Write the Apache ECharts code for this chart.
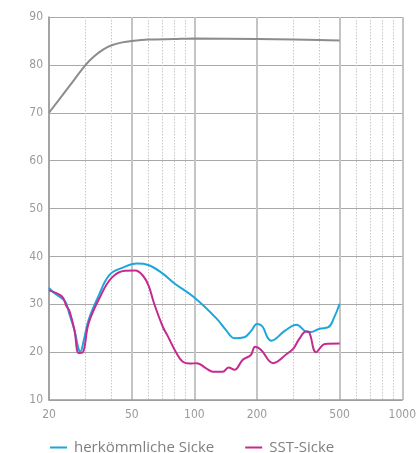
<!DOCTYPE html>
<html><head><meta charset="utf-8">
<script src="https://cdn.jsdelivr.net/npm/echarts@6/dist/echarts.min.js"></script>
<style>html,body{margin:0;padding:0;background:#fff}#c{width:419px;height:453px}</style>
</head><body><div id="c"></div>
<script>
var xMajorTicks = [20, 50, 100, 200, 500, 1000];
var xMinorTicks = [30, 40, 60, 70, 80, 90, 300, 400, 600, 700, 800, 900];
var seriesNames = ['herkömmliche Sicke', 'SST-Sicke'];

var grayFreq = [20, 25, 30, 33, 36.4, 40, 45, 50, 60, 80, 100, 200, 300, 400, 500];
var grayVal  = [70, 75.5, 80, 81.8, 83.2, 84.1, 84.7, 85.0, 85.3, 85.4, 85.5, 85.4, 85.3, 85.2, 85.1];

var blueFreq = [20, 21.1, 23.9, 25, 26.5, 27.7, 28.3, 29.3, 31, 34.5, 39, 45, 53, 60, 70, 80, 100, 128, 142, 156, 174, 188, 200, 213, 224, 234, 273, 310, 345, 363, 400, 441, 470, 500];
var blueVal  = [33.4, 32.4, 30.6, 28.1, 24.6, 20.8, 20.1, 22.2, 26.7, 31.6, 36.1, 37.6, 38.5, 38.2, 36.5, 34.4, 31.4, 27.0, 24.6, 22.9, 23.1, 24.5, 25.9, 25.3, 23.2, 22.4, 24.5, 25.7, 24.3, 24.2, 24.9, 25.2, 27.2, 30.1];

var magFreq = [20, 23.1, 24.3, 25, 26.5, 27.8, 29, 31, 35, 40, 46.4, 52, 57, 60.5, 64, 70.5, 74, 82, 88, 95, 103, 114, 123, 137, 146, 156, 171, 187, 196, 209, 239, 278, 300, 318, 345, 357, 385, 425, 500];
var magVal  = [32.9, 31.6, 29.5, 28.8, 24.6, 19.8, 19.9, 26.0, 31.3, 35.5, 37.0, 37.05, 35.8, 33.7, 30.2, 25.3, 23.6, 19.8, 18.0, 17.6, 17.7, 16.6, 15.9, 15.9, 16.8, 16.3, 18.4, 19.4, 21.1, 20.5, 17.7, 19.6, 20.8, 22.6, 24.3, 24.1, 20.0, 21.7, 21.8];

function zip(a, b) { return a.map(function (v, i) { return [v, b[i]]; }); }

var chart = echarts.init(document.getElementById('c'), null, {renderer: 'canvas'});
var narrow = '"Liberation Sans Narrow", "DejaVu Sans Condensed", sans-serif';
chart.setOption({
  animation: false,
  grid: {left: 49, right: 12, top: 17, bottom: 53, containLabel: false},
  legend: {
    data: seriesNames,
    left: 45, top: 435,
    itemWidth: 17, itemHeight: 2, itemGap: 31,
    icon: 'rect',
    textStyle: {color: '#808080', fontSize: 15, fontFamily: '"Open Sans", sans-serif', padding: [0, 0, 0, 2]}
  },
  xAxis: [{
    type: 'log', logBase: 10, min: 20, max: 1000,
    axisLine: {show: true, onZero: false, lineStyle: {color: '#9a9a9a', width: 1.5}},
    axisTick: {show: false, customValues: xMajorTicks},
    axisLabel: {customValues: xMajorTicks, color: '#9a9a9a', fontSize: 12, fontFamily: narrow, margin: 9,
      formatter: function (v) { return String(Math.round(v)); }},
    splitLine: {show: true, lineStyle: {color: '#c4c4c4', width: 2}},
    minorTick: {show: false}, minorSplitLine: {show: false}
  }, {
    type: 'log', logBase: 10, min: 20, max: 1000, position: 'bottom',
    axisLine: {show: false},
    axisTick: {show: false, customValues: xMinorTicks},
    axisLabel: {show: false, customValues: xMinorTicks},
    splitLine: {show: true, lineStyle: {color: '#c8c8c8', width: 1, type: [1.5, 1.5]}}
  }],
  yAxis: {
    type: 'value', min: 10, max: 90, interval: 10,
    axisLine: {show: true, lineStyle: {color: '#9a9a9a', width: 1.5}},
    axisTick: {show: false},
    axisLabel: {color: '#9a9a9a', fontSize: 12, fontFamily: narrow, margin: 6},
    splitLine: {show: true, lineStyle: {color: '#a8a8a8', width: 1}}
  },
  series: [{
    type: 'line', name: 'grau', data: zip(grayFreq, grayVal), showSymbol: false, smooth: 0.3,
    lineStyle: {color: '#8c8c8c', width: 2}, itemStyle: {color: '#8c8c8c'}, z: 3
  }, {
    type: 'line', name: seriesNames[0], data: zip(blueFreq, blueVal), showSymbol: false, smooth: 0.4,
    lineStyle: {color: '#1da6dc', width: 2}, itemStyle: {color: '#1da6dc'}, z: 4
  }, {
    type: 'line', name: seriesNames[1], data: zip(magFreq, magVal), showSymbol: false, smooth: 0.4,
    lineStyle: {color: '#c62a8e', width: 2}, itemStyle: {color: '#c62a8e'}, z: 5
  }]
});
</script></body></html>
